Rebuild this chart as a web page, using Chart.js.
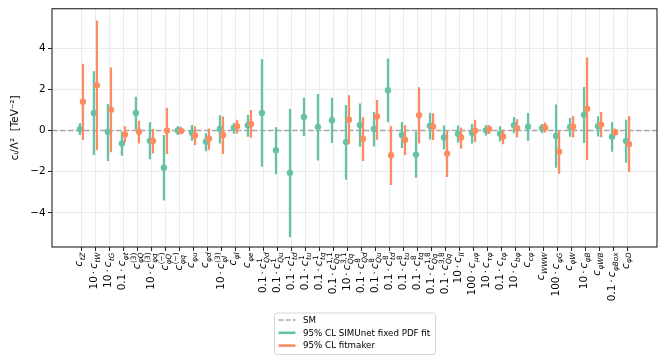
<!DOCTYPE html>
<html>
<head>
<meta charset="utf-8">
<script src="https://cdn.jsdelivr.net/npm/chart.js@4.4.0/dist/chart.umd.min.js"></script>
<style>
  html, body { margin: 0; padding: 0; background: #fff; }
  #wrap { width: 665px; height: 362px; }
</style>
</head>
<body>
<div id="wrap"><canvas id="coeffChart" width="665" height="362"></canvas></div>
<script>
'use strict';

// operator names: scale factor, subscript, superscript
const factors = ['', '10', '10', '0.1', '', '10', '', '', '', '', '10', '', '',
  '0.1', '0.1', '0.1', '0.1', '0.1', '0.1', '10', '0.1', '0.1', '0.1', '0.1', '0.1', '0.1', '0.1',
  '10', '100', '10', '0.1', '10', '', '', '100', '', '10', '', '0.1', ''];
const subs = ['tZ', 'tW', 'tG', 'φt', 'φQ', 'φq', 'φQ', 'φq', 'φu', 'φd', 'φl', 'φl', 'φe',
  'Qd', 'Qu', 'td', 'tu', 'tq', 'Qq', 'Qq', 'Qd', 'Qu', 'td', 'tu', 'tq', 'Qq', 'Qq',
  'll', 'μφ', 'τφ', 'tφ', 'bφ', 'cφ', 'WWW', 'φG', 'φW', 'φB', 'φWB', 'φBox', 'φD'];
const sups = ['', '', '', '', '(3)', '(3)', '(−)', '(−)', '', '', '(3)', '', '',
  '1', '1', '1', '1', '1', '1,1', '3,1', '8', '8', '8', '8', '8', '1,8', '3,8',
  '', '', '', '', '', '', '', '', '', '', '', '', ''];

// 95% CL SIMUnet fixed PDF fit
const simCentral = [0.07, 0.85, -0.06, -0.63, 0.85, -0.50, -1.81, 0.00, -0.11, -0.54, 0.08, 0.13, 0.26,
  0.85, -0.96, -2.05, 0.66, 0.18, 0.50, -0.56, 0.27, 0.08, 1.96, -0.22, -1.17, 0.23, -0.34,
  -0.16, -0.11, 0.02, -0.16, 0.26, 0.19, 0.12, -0.26, 0.18, 0.77, 0.21, -0.30, -0.51];
const simLow = [-0.22, -1.19, -1.48, -1.22, 0.05, -1.40, -3.40, -0.22, -0.50, -1.01, -0.63, -0.14, -0.30,
  -1.76, -2.12, -5.19, -0.27, -1.46, -0.61, -2.39, -0.79, -0.77, 0.40, -0.85, -2.29, -0.43, -0.92,
  -0.59, -0.63, -0.24, -0.53, -0.13, -0.50, -0.13, -1.81, -0.30, -0.61, -0.29, -1.03, -1.56];
const simHigh = [0.36, 2.88, 1.29, -0.05, 1.64, 0.40, -0.22, 0.22, 0.27, -0.13, 0.74, 0.37, 0.76,
  3.47, 0.16, 1.06, 1.59, 1.78, 1.59, 1.24, 1.32, 0.90, 3.50, 0.42, -0.05, 0.87, 0.24,
  0.24, 0.32, 0.27, 0.21, 0.66, 0.85, 0.32, 1.27, 0.61, 2.12, 0.69, 0.40, 0.53];

// 95% CL fitmaker (null where the operator is not in the fit)
const fmCentral = [1.40, 2.20, 1.01, -0.19, -0.06, -0.51, 0.00, -0.02, -0.24, -0.40, -0.22, 0.21, 0.32,
  null, null, null, null, null, null, 0.53, -0.40, 0.68, -1.20, -0.45, 0.74, 0.19, -1.12,
  -0.34, -0.01, 0.07, -0.29, 0.12, null, 0.15, -1.03, 0.19, 1.06, 0.29, -0.08, -0.66];
const fmLow = [-0.46, -0.96, -1.06, -0.58, -0.63, -1.11, -1.14, -0.18, -0.70, -0.93, -1.14, -0.16, -0.35,
  null, null, null, null, null, null, -0.67, -1.48, -0.45, -2.65, -1.19, -0.63, -0.46, -2.26,
  -0.87, -0.56, -0.17, -0.67, -0.34, null, -0.10, -2.10, -0.34, -1.43, -0.32, -0.24, -2.02];
const fmHigh = [3.25, 5.35, 3.07, 0.21, 0.47, 0.07, 1.11, 0.18, 0.21, 0.10, 0.68, 0.52, 1.00,
  null, null, null, null, null, null, 1.72, 0.65, 1.48, 0.21, 0.26, 2.11, 0.84, -0.01,
  0.15, 0.52, 0.26, 0.05, 0.55, null, 0.39, -0.01, 0.71, 3.55, 0.90, 0.10, 0.69];

const smValue = 0;
const yTicks = [-4, -2, 0, 2, 4];
const legendLabels = ['SM', '95% CL SIMUnet fixed PDF fit', '95% CL fitmaker'];

const GREEN = '#66c2a5';
const ORANGE = '#fc8d62';
const SMGREY = '#a6a6a6';
const X_MIN = -2.1, X_MAX = 41.1;
const DX = 0.11;   // side-by-side shift of the two fits

function bars(central, low, high, shift) {
  const out = [];
  central.forEach((c, i) => {
    if (c !== null) out.push({x: i + shift, y: [low[i], high[i]]});
  });
  return out;
}

function dots(central, shift) {
  const out = [];
  central.forEach((c, i) => {
    if (c !== null) out.push({x: i + shift, y: c});
  });
  return out;
}

// x tick labels drawn like matplotlib mathtext: factor·c_{sub}^{sup}, rotated 90deg
function drawOperator(ctx, px, py, factor, sub, sup, fs) {
  const ss = fs * 0.7;
  const up = fs + 'px "DejaVu Sans"';
  const it = 'italic ' + fs + 'px "DejaVu Sans"';
  const upS = ss + 'px "DejaVu Sans"';
  const itS = 'italic ' + ss + 'px "DejaVu Sans"';
  ctx.save();
  ctx.font = up;
  const wF = factor ? ctx.measureText(factor).width : 0;
  const wDot = ctx.measureText('\u22c5').width;
  const gap = factor ? fs * 0.2 : 0;
  ctx.font = it;
  const wC = ctx.measureText('c').width;
  ctx.font = itS;
  const wSub = ctx.measureText(sub).width;
  ctx.font = upS;
  const wSup = sup ? ctx.measureText(sup).width : 0;
  const total = wF + (factor ? wDot + 2 * gap : 0) + wC + 0.5 + Math.max(wSub, wSup);

  const subShift = sup ? 0.3 * fs : 0.22 * fs;
  const supShift = 0.42 * fs;
  let top = -(factor ? 0.73 : 0.55) * fs;
  if (sup) top = Math.min(top, -(supShift + 0.78 * ss));
  const bottom = subShift + 0.22 * ss;
  const base = -(top + bottom) / 2;

  ctx.translate(px, py);
  ctx.rotate(-Math.PI / 2);
  ctx.fillStyle = '#000';
  ctx.textBaseline = 'alphabetic';
  ctx.textAlign = 'left';
  let x = -total;
  if (factor) {
    ctx.font = up;
    ctx.fillText(factor, x, base);
    x += wF + gap;
    ctx.fillText('\u22c5', x, base);
    x += wDot + gap;
  }
  ctx.font = it;
  ctx.fillText('c', x, base);
  x += wC + 0.5;
  ctx.font = itS;
  ctx.fillText(sub, x, base + subShift);
  if (sup) {
    ctx.font = upS;
    ctx.fillText(sup, x, base - supShift);
  }
  ctx.restore();
}

const labelPlugin = {
  id: 'mathLabels',
  afterDraw(chart) {
    const xs = chart.scales.x;
    const y0 = chart.chartArea.bottom + 5.5;
    factors.forEach((f, i) => {
      drawOperator(chart.ctx, xs.getPixelForValue(i), y0, f, subs[i], sups[i], 10.4);
    });
  }
};

const framePlugin = {
  id: 'frame',
  afterDraw(chart) {
    const a = chart.chartArea;
    const ctx = chart.ctx;
    ctx.save();
    ctx.strokeStyle = '#222';
    ctx.lineWidth = 1.1;
    ctx.strokeRect(a.left, a.top, a.right - a.left, a.bottom - a.top);
    ctx.restore();
  }
};

const legendPlugin = {
  id: 'boxLegend',
  afterDraw(chart) {
    const ctx = chart.ctx;
    const bx = 274, by = 312.5, bw = 161, bh = 41.5;
    ctx.save();
    ctx.beginPath();
    ctx.roundRect(bx + 0.5, by + 0.5, bw, bh, 2.5);
    ctx.fillStyle = 'rgba(255,255,255,0.8)';
    ctx.fill();
    ctx.strokeStyle = '#d6d6d6';
    ctx.lineWidth = 1;
    ctx.stroke();
    const styles = [
      {color: SMGREY, dash: [5, 2.2], width: 1.5},
      {color: GREEN, dash: [], width: 2.6},
      {color: ORANGE, dash: [], width: 2.6}
    ];
    ctx.font = '8.7px "DejaVu Sans"';
    ctx.textBaseline = 'middle';
    ctx.fillStyle = '#000';
    legendLabels.forEach((txt, k) => {
      const yy = by + 7.5 + k * 12.8;
      ctx.beginPath();
      ctx.setLineDash(styles[k].dash);
      ctx.strokeStyle = styles[k].color;
      ctx.lineWidth = styles[k].width;
      ctx.moveTo(278.5, yy);
      ctx.lineTo(295.5, yy);
      ctx.stroke();
      ctx.setLineDash([]);
      ctx.fillText(txt, 303, yy + 0.5);
    });
    ctx.restore();
  }
};

Chart.defaults.font.family = '"DejaVu Sans"';

const config = {
  type: 'scatter',
  data: {
    datasets: [
      {
        type: 'line',
        data: [{x: X_MIN, y: smValue}, {x: X_MAX, y: smValue}],
        borderColor: SMGREY,
        borderWidth: 1.5,
        borderDash: [5.5, 2.5],
        pointRadius: 0,
        order: 10
      },
      {
        type: 'bar',
        data: bars(simCentral, simLow, simHigh, -DX),
        backgroundColor: GREEN,
        maxBarThickness: 3,
        grouped: false,
        borderWidth: 0,
        order: 4
      },
      {
        type: 'scatter',
        data: dots(simCentral, -DX),
        backgroundColor: GREEN,
        pointRadius: 3.2,
        pointBorderWidth: 0,
        order: 3
      },
      {
        type: 'bar',
        data: bars(fmCentral, fmLow, fmHigh, DX),
        backgroundColor: ORANGE,
        maxBarThickness: 3,
        grouped: false,
        borderWidth: 0,
        order: 2
      },
      {
        type: 'scatter',
        data: dots(fmCentral, DX),
        backgroundColor: ORANGE,
        pointRadius: 3.2,
        pointBorderWidth: 0,
        order: 1
      }
    ]
  },
  options: {
    responsive: false,
    animation: false,
    devicePixelRatio: 1,
    layout: {padding: {top: 7, right: 8, left: 0, bottom: 0}},
    plugins: {
      legend: {display: false},
      tooltip: {enabled: false}
    },
    scales: {
      x: {
        type: 'linear',
        min: X_MIN,
        max: X_MAX,
        offset: false,
        afterBuildTicks: s => { s.ticks = factors.map((f, i) => ({value: i})); },
        afterFit: s => { s.height = 115; },
        grid: {color: '#ebebeb', lineWidth: 1, offset: false, tickColor: '#222', tickLength: 4},
        border: {display: false},
        ticks: {autoSkip: false, maxRotation: 0, callback: () => ''}
      },
      y: {
        min: -5.66,
        max: 5.92,
        afterBuildTicks: s => { s.ticks = yTicks.map(v => ({value: v})); },
        afterFit: s => { s.width = 52; },
        grid: {color: '#ebebeb', lineWidth: 1, tickColor: '#222', tickLength: 4},
        border: {display: false},
        ticks: {
          color: '#000',
          padding: 2.5,
          font: {size: 10.4},
          callback: v => (v < 0 ? '\u2212' + Math.abs(v) : String(v))
        },
        title: {
          display: true,
          text: 'cᵢ/Λ²  [TeV⁻²]',
          color: '#000',
          font: {size: 10.4},
          padding: {top: 9, bottom: 0}
        }
      }
    }
  },
  plugins: [framePlugin, labelPlugin, legendPlugin]
};

new Chart(document.getElementById('coeffChart').getContext('2d'), config);
</script>
</body>
</html>
